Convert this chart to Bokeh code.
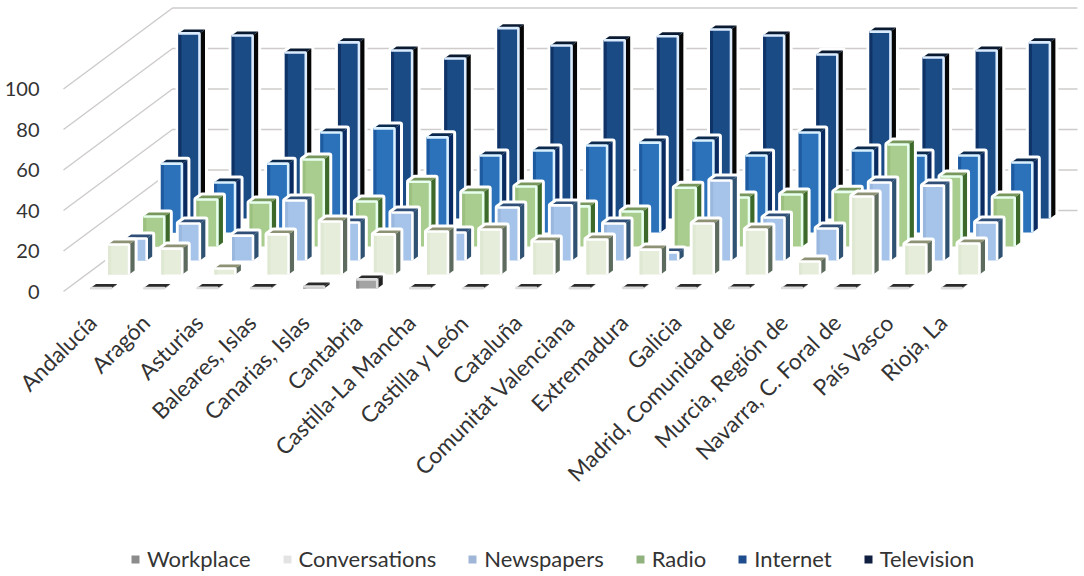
from bokeh.plotting import figure
from bokeh.models import Range1d, LinearAxis, FixedTicker, Legend, LegendItem
from bokeh.embed import file_html
from bokeh.resources import INLINE

categories = ["Andalucía", "Aragón", "Asturias", "Baleares, Islas", "Canarias, Islas", "Cantabria",
              "Castilla-La Mancha", "Castilla y León", "Cataluña", "Comunitat Valenciana", "Extremadura",
              "Galicia", "Madrid, Comunidad de", "Murcia, Región de", "Navarra, C. Foral de", "País Vasco", "Rioja, La"]
workplace = [0.2, 0.2, 0.3, 0.2, 1.0, 4.5, 0.2, 0.2, 0.3, 0.2, 0.3, 0.2, 0.3, 0.3, 0.2, 0.2, 0.2]
conversations = [14.8, 12.8, 3.0, 19.8, 26.2, 19.8, 21.2, 22.2, 16.3, 17.3, 12.3, 25.2, 22.2, 6.4, 38.5, 14.8, 15.3]
newspapers = [10.9, 18.3, 12.3, 29.6, 18.8, 23.7, 13.8, 26.2, 27.2, 18.3, 4.0, 39.5, 21.2, 15.8, 38.5, 37.0, 18.8]
radio = [14.8, 23.2, 21.7, 43.0, 22.2, 32.0, 26.7, 29.6, 19.8, 17.3, 29.0, 24.2, 25.7, 27.0, 50.4, 34.6, 24.2]
internet = [34.0, 24.7, 34.0, 49.4, 51.4, 47.0, 38.0, 40.5, 43.0, 44.4, 45.4, 38.0, 49.4, 40.5, 38.0, 38.0, 34.6]
television = [91.4, 90.4, 82.0, 87.0, 83.0, 79.0, 94.0, 85.4, 88.0, 90.0, 93.3, 90.4, 81.0, 92.3, 79.5, 83.0, 87.0]
value_ticks = [0, 20, 40, 60, 80, 100]

series_names = ["Workplace", "Conversations", "Newspapers", "Radio", "Internet", "Television"]
series_values = [workplace, conversations, newspapers, radio, internet, television]
front_colors = ["#a3a3a3", "#e6eddb", "#a6c4ea", "#a9cd8e", "#2b72ba", "#1a4b85"]
inner_colors = ["#8a8a8a", "#dfe8d2", "#9ab8de", "#9cc080", "#1d5aa0", "#0f3366"]
side_colors = ["#222222", "#5d6b5e", "#2f5272", "#3d6a2b", "#0a2a62", "#060606"]
top_colors = ["#2a2a2a", "#8d9274", "#2f4f78", "#77975c", "#0b2a4e", "#0a1a30"]
edge_colors = ["#dddddd", "#ffffff", "#ffffff", "#e8fff0", "#d8f0ff", "#dcecff"]
legend_colors = ["#8c8c8c", "#e2e4e2", "#9fb6d6", "#90b27e", "#1f4c8c", "#101f40"]

# ---- projection constants (px scale of the page)
W, H = 1080, 572
PX_X = 53.15            # one category
PX_Y = 2.025            # one value unit
X0 = 92.0               # target px of category 0
Y0 = 291.0              # target px of value 0
ROW_DX = 17.6 / PX_X    # per series depth step
ROW_DY = 14.0 / PX_Y
BASE_X = -2.0 / PX_X    # front row left edge, relative to the category
BASE_Y = 3.0 / PX_Y
BAR_W = 21.0 / PX_X
SIDE_DX = 5.5 / PX_X
SIDE_DY = 4.0 / PX_Y
INNER = 3.0 / PX_X

p = figure(width=W, height=H, output_backend="svg", toolbar_location=None,
           x_range=Range1d(-X0 / PX_X, (W - X0) / PX_X),
           y_range=Range1d((Y0 - H) / PX_Y, Y0 / PX_Y),
           x_axis_type=None, y_axis_type=None, min_border=0, outline_line_color=None)
p.grid.visible = False

# walls
gx_left, gx_corner, gx_right = (63 - X0) / PX_X, (172 - X0) / PX_X, (1077 - X0) / PX_X
wall_rise = 81.0 / PX_Y
p.multi_line([[gx_left, gx_corner, gx_right] for v in value_ticks],
             [[v, v + wall_rise, v + wall_rise] for v in value_ticks],
             line_color="#cfcbcb", line_width=1.5)

legend_renderers = {}
for s in range(5, -1, -1):
    vals = series_values[s]
    lefts = [i + BASE_X + s * ROW_DX for i in range(len(vals))]
    rights = [x + BAR_W for x in lefts]
    base = BASE_Y + s * ROW_DY
    tops = [base + v for v in vals]
    # soft white halo round every bar
    p.patches([[l, r, r + SIDE_DX, r + SIDE_DX, l + SIDE_DX, l] for l, r in zip(lefts, rights)],
              [[base, base, base + SIDE_DY, t + SIDE_DY, t + SIDE_DY, t] for t in tops],
              fill_color="white", line_color="white", line_width=6, line_join="round")
    # swatch source for the legend: sits under the first bar's front
    legend_renderers[s] = p.quad(left=lefts[:1], right=rights[:1], bottom=[base], top=tops[:1],
                                 fill_color=legend_colors[s], line_color=None)
    p.patches([[r, r + SIDE_DX, r + SIDE_DX, r] for r in rights],
              [[base, base + SIDE_DY, t + SIDE_DY, t] for t in tops],
              fill_color=side_colors[s], line_color=None)
    p.patches([[l, r, r + SIDE_DX, l + SIDE_DX] for l, r in zip(lefts, rights)],
              [[t, t, t + SIDE_DY, t + SIDE_DY] for t in tops],
              fill_color=top_colors[s], line_color=None)
    p.quad(left=lefts, right=rights, bottom=[base] * len(vals), top=tops,
           fill_color=front_colors[s], line_color=None)
    p.quad(left=lefts, right=[x + INNER for x in lefts], bottom=[base] * len(vals), top=tops,
           fill_color=inner_colors[s], line_color=None)
    p.multi_line([[l, r, r] for l, r in zip(lefts, rights)],
                 [[t, t, base] for t in tops],
                 line_color=edge_colors[s], line_width=2.6)

legend_items = [LegendItem(label=series_names[s], renderers=[legend_renderers[s]]) for s in range(6)]

FONT = "Lato"
TEXT = "#333333"
yaxis = LinearAxis(ticker=FixedTicker(ticks=value_ticks), fixed_location=(45 - X0) / PX_X,
                   axis_line_color=None, major_tick_line_color=None, minor_tick_line_color=None,
                   major_label_standoff=0, major_label_text_font=FONT,
                   major_label_text_font_size="20px", major_label_text_color=TEXT)
p.add_layout(yaxis, "left")

xaxis = LinearAxis(ticker=FixedTicker(ticks=list(range(len(categories)))),
                   major_label_overrides={i: c for i, c in enumerate(categories)},
                   major_label_orientation=0.785, fixed_location=(Y0 - 312) / PX_Y,
                   axis_line_color=None, major_tick_line_color=None, minor_tick_line_color=None,
                   major_label_standoff=0, major_label_text_font=FONT,
                   major_label_text_font_size="22.5px", major_label_text_color=TEXT)
p.add_layout(xaxis, "below")

legend = Legend(items=legend_items, orientation="horizontal", location=(130, 0),
                glyph_width=10, glyph_height=10, label_text_font=FONT, label_text_font_size="22px",
                label_text_color=TEXT, spacing=31, background_fill_alpha=0, border_line_color=None,
                label_standoff=7, padding=0, margin=0)
p.add_layout(legend, "center")

open("out.html", "w").write(file_html(p, INLINE))
